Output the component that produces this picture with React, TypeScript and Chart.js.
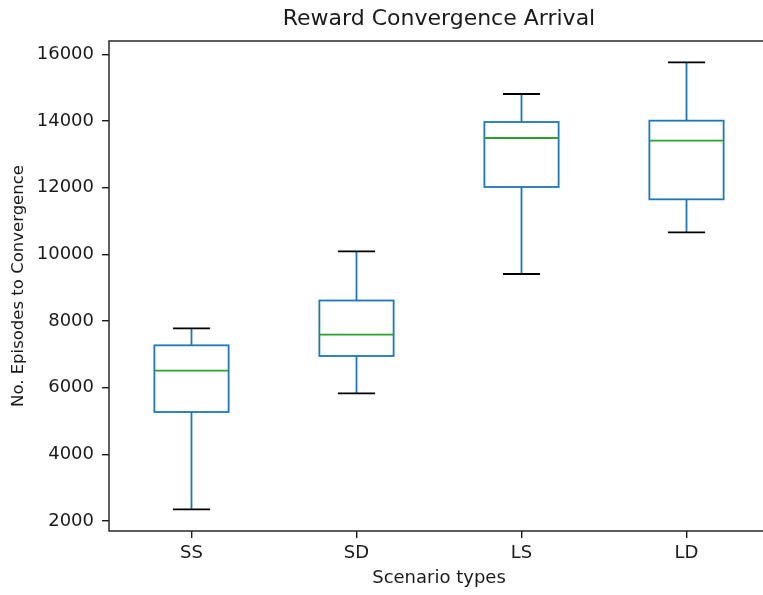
import { useEffect, useRef } from 'react';
import { Chart, registerables } from 'chart.js';

Chart.register(...registerables);

// Scenario categories along the x axis
const categories = ['SS', 'SD', 'LS', 'LD'];

// Five-number summaries per scenario (episodes to convergence)
const whiskerLow = [2350, 5830, 9410, 10660];
const quartile1 = [5270, 6950, 12020, 11650];
const medians = [6510, 7590, 13490, 13410];
const quartile3 = [7270, 8615, 13970, 14010];
const whiskerHigh = [7780, 10090, 14810, 15760];

// Y-axis tick values
const yTicks = [2000, 4000, 6000, 8000, 10000, 12000, 14000, 16000];

const BOX_COLOR = '#1f77b4';
const MEDIAN_COLOR = '#2ca02c';
const CAP_COLOR = '#000000';
const BOX_HALF = 0.225;
const CAP_HALF = 0.1125;
const TEXT_SIZE = 18;

const boxPlotPlugin = {
  id: 'boxPlot',
  afterDatasetsDraw(chart: any) {
    const { ctx, scales, chartArea } = chart;
    const x = scales.x;
    const y = scales.y;
    ctx.save();
    ctx.lineWidth = 1.8;
    ctx.lineCap = 'butt';
    const hline = (x0: number, x1: number, yy: number, color: string) => {
      ctx.strokeStyle = color;
      ctx.beginPath();
      ctx.moveTo(x0, yy);
      ctx.lineTo(x1, yy);
      ctx.stroke();
    };
    const vline = (xx: number, y0: number, y1: number, color: string) => {
      ctx.strokeStyle = color;
      ctx.beginPath();
      ctx.moveTo(xx, y0);
      ctx.lineTo(xx, y1);
      ctx.stroke();
    };
    categories.forEach((_, i) => {
      const pos = i + 1;
      const cx = x.getPixelForValue(pos);
      const bl = x.getPixelForValue(pos - BOX_HALF);
      const br = x.getPixelForValue(pos + BOX_HALF);
      const cl = x.getPixelForValue(pos - CAP_HALF);
      const cr = x.getPixelForValue(pos + CAP_HALF);
      const yLo = y.getPixelForValue(whiskerLow[i]);
      const yQ1 = y.getPixelForValue(quartile1[i]);
      const yMed = y.getPixelForValue(medians[i]);
      const yQ3 = y.getPixelForValue(quartile3[i]);
      const yHi = y.getPixelForValue(whiskerHigh[i]);
      // whiskers
      vline(cx, yQ1, yLo, BOX_COLOR);
      vline(cx, yQ3, yHi, BOX_COLOR);
      // caps
      hline(cl, cr, yLo, CAP_COLOR);
      hline(cl, cr, yHi, CAP_COLOR);
      // box
      ctx.strokeStyle = BOX_COLOR;
      ctx.strokeRect(bl, yQ3, br - bl, yQ1 - yQ3);
      // median
      hline(bl, br, yMed, MEDIAN_COLOR);
    });
    // axes frame
    ctx.strokeStyle = '#1a1a1a';
    ctx.lineWidth = 1.4;
    ctx.strokeRect(chartArea.left, chartArea.top, chartArea.right - chartArea.left, chartArea.bottom - chartArea.top);
    ctx.restore();
  },
};

export default function App() {
  const canvasRef = useRef<HTMLCanvasElement | null>(null);

  useEffect(() => {
    const canvas = canvasRef.current;
    if (!canvas) return;
    Chart.defaults.font.family = '"DejaVu Sans", sans-serif';
    Chart.defaults.color = '#1a1a1a';
    const chart = new Chart(canvas, {
      type: 'line',
      data: { labels: categories, datasets: [] },
      plugins: [boxPlotPlugin],
      options: {
        responsive: false,
        animation: false,
        devicePixelRatio: 1,
        layout: { padding: { left: 0, right: 6, top: 0, bottom: 0 } },
        plugins: {
          legend: { display: false },
          tooltip: { enabled: false },
          title: {
            display: true,
            fullSize: false,
            text: 'Reward Convergence Arrival',
            color: '#1a1a1a',
            font: { size: 22, weight: 'normal' },
            padding: { top: 5.8, bottom: 8.8 },
          },
        },
        scales: {
          x: {
            type: 'linear',
            min: 0.5,
            max: 4.5,
            afterBuildTicks: (axis: any) => {
              axis.ticks = categories.map((_, i) => ({ value: i + 1 }));
            },
            afterFit: (axis: any) => {
              axis.height = 64;
            },
            ticks: {
              autoSkip: false,
              maxRotation: 0,
              padding: 5,
              color: '#1a1a1a',
              font: { size: TEXT_SIZE },
              callback: (v: any) => categories[Number(v) - 1] ?? '',
            },
            grid: {
              display: true,
              drawOnChartArea: false,
              drawTicks: true,
              tickLength: 7,
              color: '#1a1a1a',
              lineWidth: 1.4,
            },
            border: { display: false },
            title: {
              display: true,
              text: 'Scenario types',
              color: '#1a1a1a',
              font: { size: TEXT_SIZE },
              padding: { top: 0, bottom: 6.2 },
            },
          },
          y: {
            type: 'linear',
            min: 1700,
            max: 16400,
            afterBuildTicks: (axis: any) => {
              axis.ticks = yTicks.map((v) => ({ value: v }));
            },
            afterFit: (axis: any) => {
              axis.width = 109;
            },
            ticks: {
              padding: 8,
              color: '#1a1a1a',
              font: { size: TEXT_SIZE },
              callback: (v: any) => String(v),
            },
            grid: {
              display: true,
              drawOnChartArea: false,
              drawTicks: true,
              tickLength: 7,
              color: '#1a1a1a',
              lineWidth: 1.4,
            },
            border: { display: false },
            title: {
              display: true,
              text: 'No. Episodes to Convergence',
              color: '#1a1a1a',
              font: { size: 16.5 },
              padding: { top: 9, bottom: 0 },
            },
          },
        },
      },
    });
    return () => chart.destroy();
  }, []);

  return (
    <div
      style={{
        position: 'fixed',
        left: 0,
        top: 0,
        width: 763,
        height: 595,
        overflow: 'hidden',
        background: '#ffffff',
      }}
    >
      <canvas ref={canvasRef} width={775} height={595} style={{ display: 'block', width: 775, height: 595 }} />
    </div>
  );
}
